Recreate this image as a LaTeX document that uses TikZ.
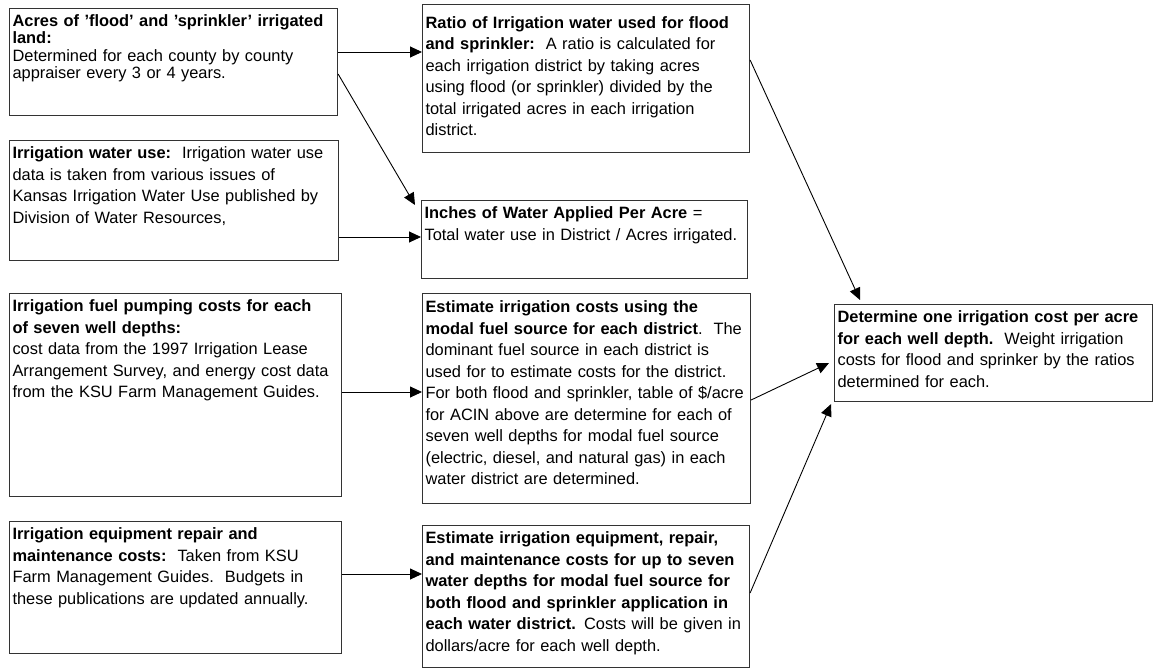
\documentclass[tikz,border=0pt]{standalone}
\usepackage{fontspec}
\setmainfont{Liberation Sans}
\usepackage{tikz}
\usetikzlibrary{arrows.meta,positioning,calc}

\tikzset{
    infobox/.style={draw=black!80, line width=1.1pt, anchor=north west, align=left,
        inner xsep=3pt, inner ysep=6pt, text height=12pt,
        font=\fontsize{16.4}{21.5}\selectfont},
    flow/.style={line width=0.9pt, -{Triangle[length=12pt,width=11pt]}}
}

\begin{document}
\begin{tikzpicture}[x=1pt,y=-1pt]
    \useasboundingbox (0,0) rectangle (1153,669);

    % inputs, left column
    \node[infobox, font=\fontsize{16.4}{17.4}\selectfont, text width=322pt, text depth=83pt] (acres) at (9,8)
        {\textbf{Acres of 'flood' and 'sprinkler' irrigated\\ land:}\\
         Determined for each county by county\\ appraiser every 3 or 4 years.};
    \node[infobox, text width=323pt, text depth=96pt] (wateruse) at (9,140)
        {\textbf{Irrigation water use:}\ \ Irrigation water use\\
         data is taken from various issues of\\
         Kansas Irrigation Water Use published by\\
         Division of Water Resources,};
    \node[infobox, text width=326pt, text depth=179pt] (fuel) at (9,293)
        {\textbf{Irrigation fuel pumping costs for each\\ of seven well depths:}\\
         cost data from the 1997 Irrigation Lease\\
         Arrangement Survey, and energy cost data\\
         from the KSU Farm Management Guides.};
    \node[infobox, text width=326pt, text depth=108pt] (repair) at (9,521)
        {\textbf{Irrigation equipment repair and\\ maintenance costs:}\ \ Taken from KSU\\
         Farm Management Guides.\ \ Budgets in\\
         these publications are updated annually.};

    % middle column
    \node[infobox, text width=321pt, text height=17.5pt, text depth=118pt] (ratio) at (422,4)
        {\textbf{Ratio of Irrigation water used for flood\\ and sprinkler:}\ \ A ratio is calculated for\\
         each irrigation district by taking acres\\
         using flood (or sprinkler) divided by the\\
         total irrigated acres in each irrigation\\
         district.};
    \node[infobox, text width=320pt, text depth=54pt] (inches) at (421,200)
        {\textbf{Inches of Water Applied Per Acre} =\\
         Total water use in District / Acres irrigated.};
    \node[infobox, text width=322pt, text height=13pt, text depth=185pt] (modal) at (422,293)
        {\textbf{Estimate irrigation costs using the\\ modal fuel source for each district}.\ \ The\\
         dominant fuel source in each district is\\
         used for to estimate costs for the district.\\
         For both flood and sprinkler, table of \$/acre\\
         for ACIN above are determine for each of\\
         seven well depths for modal fuel source\\
         (electric, diesel, and natural gas) in each\\
         water district are determined.};
    \node[infobox, text width=321pt, text depth=118pt] (equip) at (422,525)
        {\textbf{Estimate irrigation equipment, repair,\\ and maintenance costs for up to seven\\
         water depths for modal fuel source for\\ both flood and sprinkler application in\\
         each water district.} Costs will be given in\\
         dollars/acre for each well depth.};

    % result
    \node[infobox, text width=312pt, text depth=73pt] (result) at (834,304)
        {\textbf{Determine one irrigation cost per acre\\ for each well depth.}\ \ Weight irrigation\\
         costs for flood and sprinker by the ratios\\
         determined for each.};

    \coordinate (tipinches) at ([shift={(-6,5)}]inches.north west);
    \coordinate (tiptop) at ([shift={(26,-4)}]result.north west);
    \coordinate (tipmid) at ([shift={(-5,0)}]result.west |- 0,363);
    \coordinate (tiplow) at ([shift={(-3,2)}]result.south west);

    % arrows
    \draw[flow] (acres.east |- 0,52) -- (ratio.west |- 0,52);
    \draw[flow] (acres.east |- 0,74) -- (tipinches);
    \draw[flow] (wateruse.east |- 0,237) -- (inches.west |- 0,237);
    \draw[flow] (fuel.east |- 0,392) -- (modal.west |- 0,392);
    \draw[flow] (repair.east |- 0,574) -- (equip.west |- 0,574);
    \draw[flow] (ratio.east |- 0,60) -- (tiptop);
    \draw[flow] (modal.east |- 0,400) -- (tipmid);
    \draw[flow] (equip.east |- 0,593) -- (tiplow);
\end{tikzpicture}
\end{document}
